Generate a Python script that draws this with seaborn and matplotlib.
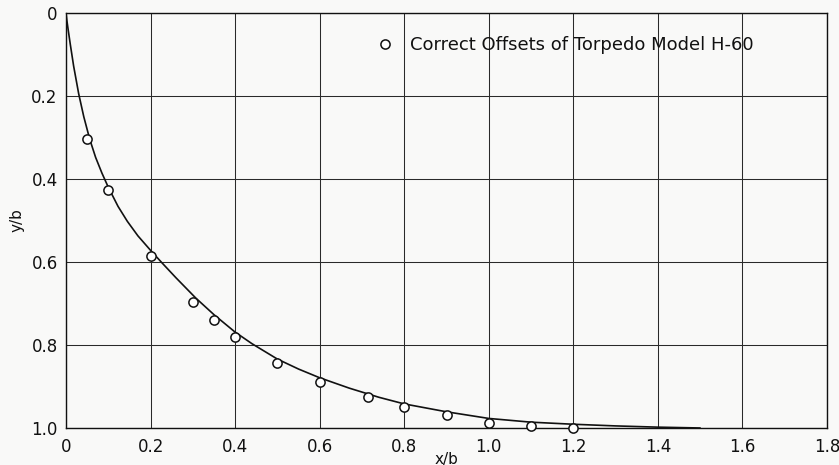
import matplotlib
matplotlib.use("Agg")
import matplotlib.pyplot as plt
import seaborn as sns
import pandas as pd
from matplotlib.lines import Line2D

# Measured offsets of the torpedo model nose (x/b, y/b)
offset_x = [0.05, 0.10, 0.20, 0.30, 0.35, 0.40, 0.50, 0.60, 0.714, 0.80, 0.90, 1.00, 1.10, 1.20]
offset_y = [0.304, 0.426, 0.586, 0.696, 0.741, 0.781, 0.844, 0.890, 0.925, 0.949, 0.968, 0.989, 0.996, 1.000]

# Faired profile curve
curve_x = [0.0, 0.002, 0.005, 0.010, 0.018, 0.030, 0.042, 0.056, 0.070, 0.085, 0.100,
           0.123, 0.145, 0.170, 0.200, 0.226, 0.260, 0.307, 0.350, 0.400, 0.440, 0.500,
           0.550, 0.600, 0.670, 0.740, 0.800, 0.900, 1.000, 1.100, 1.200, 1.300, 1.400,
           1.450, 1.500]
curve_y = [0.0, 0.018, 0.040, 0.075, 0.128, 0.195, 0.250, 0.304, 0.348, 0.386, 0.420,
           0.466, 0.502, 0.537, 0.572, 0.601, 0.638, 0.687, 0.727, 0.769, 0.797, 0.834,
           0.858, 0.879, 0.904, 0.926, 0.942, 0.961, 0.977, 0.986, 0.991, 0.995, 0.998,
           0.999, 1.000]

x_ticks = [0, 0.2, 0.4, 0.6, 0.8, 1.0, 1.2, 1.4, 1.6, 1.8]
x_tick_labels = ["0", "0.2", "0.4", "0.6", "0.8", "1.0", "1.2", "1.4", "1.6", "1.8"]
y_ticks = [0, 0.2, 0.4, 0.6, 0.8, 1.0]
y_tick_labels = ["0", "0.2", "0.4", "0.6", "0.8", "1.0"]
legend_label = "Correct Offsets of Torpedo Model H-60"

sns.set_style("white")
plt.rcParams["font.family"] = ["DejaVu Sans"]

bg = "#f9f9f8"
ink = "#111111"
fig = plt.figure(figsize=(8.39, 4.65), dpi=100, facecolor=bg)
ax = fig.add_axes([0.0787, 0.0796, 0.9070, 0.8925])
ax.set_facecolor(bg)

curve = pd.DataFrame({"x": curve_x, "y": curve_y})
points = pd.DataFrame({"x": offset_x, "y": offset_y})

sns.lineplot(data=curve, x="x", y="y", ax=ax, color=ink, linewidth=1.2,
             estimator=None, sort=False, zorder=3)
sns.scatterplot(data=points, x="x", y="y", ax=ax, marker="o", s=44,
                facecolor="white", edgecolor=ink, linewidth=1.1,
                zorder=5, clip_on=False)

ax.set_xlim(0, 1.8)
ax.set_ylim(1.0, 0)
ax.set_xticks(x_ticks)
ax.set_xticklabels(x_tick_labels)
ax.set_yticks(y_ticks)
ax.set_yticklabels(y_tick_labels)
ax.tick_params(axis="both", length=0, labelsize=12, colors=ink)
ax.tick_params(axis="x", pad=7)
ax.tick_params(axis="y", pad=6)

ax.grid(True, color="#2a2a2a", linewidth=0.75)
ax.set_axisbelow(True)
for sp in ax.spines.values():
    sp.set_visible(True)
    sp.set_color(ink)
    sp.set_linewidth(1.0)

ax.set_xlabel("x/b", fontsize=11, labelpad=-3, color=ink)
ax.set_ylabel("y/b", fontsize=11, labelpad=5, color=ink)

handle = Line2D([], [], linestyle="none", marker="o", markersize=6.6,
                markerfacecolor="white", markeredgecolor=ink, markeredgewidth=1.1)
ax.legend([handle], [legend_label], loc="center left", bbox_to_anchor=(0.407, 0.923),
          frameon=False, fontsize=13, handlelength=1.0, handletextpad=0.9,
          borderpad=0, borderaxespad=0, labelcolor=ink)

fig.savefig("out.png", dpi=100, facecolor=bg)
